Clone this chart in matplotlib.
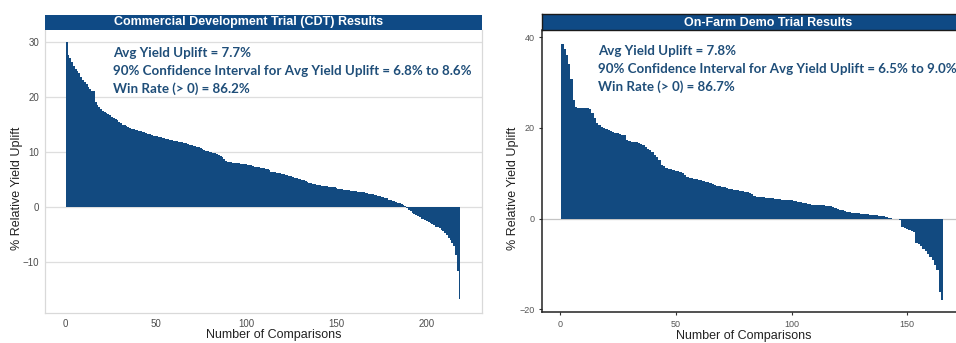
import matplotlib
matplotlib.use("Agg")
import matplotlib.pyplot as plt
import numpy as np

# sorted yield uplift (%) per comparison, CDT trials
cdt_uplift = [
    30.0, 27.6, 27.0, 26.2, 25.5, 25.0, 24.6, 24.3, 23.6, 23.0,
    22.6, 22.3, 21.8, 21.3, 21.1, 21.0, 19.0, 18.4, 18.1, 17.7,
    17.3, 17.2, 17.0, 16.8, 16.6, 16.3, 16.1, 16.0, 15.8, 15.4,
    15.2, 14.9, 14.8, 14.6, 14.4, 14.3, 14.2, 14.1, 14.0, 13.9,
    13.8, 13.7, 13.6, 13.5, 13.4, 13.3, 13.2, 13.0, 12.9, 12.8,
    12.8, 12.7, 12.6, 12.5, 12.4, 12.3, 12.3, 12.2, 12.1, 12.0,
    11.9, 11.9, 11.8, 11.8, 11.7, 11.6, 11.5, 11.4, 11.3, 11.2,
    11.1, 11.0, 10.9, 10.8, 10.6, 10.4, 10.3, 10.2, 10.1, 10.0,
    9.9, 9.8, 9.7, 9.6, 9.4, 9.2, 9.0, 8.7, 8.3, 8.2,
    8.1, 8.1, 8.0, 8.0, 7.9, 7.9, 7.8, 7.8, 7.7, 7.7,
    7.6, 7.6, 7.5, 7.4, 7.3, 7.3, 7.2, 7.1, 7.0, 7.0,
    6.9, 6.8, 6.6, 6.4, 6.3, 6.3, 6.2, 6.2, 6.1, 6.0,
    5.9, 5.8, 5.7, 5.6, 5.5, 5.4, 5.3, 5.2, 5.1, 5.0,
    4.9, 4.8, 4.6, 4.5, 4.4, 4.3, 4.2, 4.1, 4.0, 3.9,
    3.9, 3.8, 3.8, 3.7, 3.7, 3.6, 3.6, 3.5, 3.5, 3.4,
    3.3, 3.3, 3.2, 3.1, 3.1, 3.0, 3.0, 2.9, 2.9, 2.8,
    2.8, 2.7, 2.7, 2.6, 2.6, 2.5, 2.5, 2.4, 2.3, 2.3,
    2.2, 2.1, 2.0, 1.9, 1.8, 1.7, 1.6, 1.5, 1.3, 1.2,
    1.1, 1.0, 0.9, 0.7, 0.6, 0.5, 0.4, 0.2, -0.2, -0.6,
    -0.8, -1.1, -1.3, -1.5, -1.7, -1.9, -2.2, -2.3, -2.4, -2.6,
    -2.8, -3.0, -3.2, -3.4, -3.6, -3.7, -3.9, -4.2, -4.4, -4.8,
    -5.2, -5.6, -6.0, -6.6, -7.2, -8.8, -11.6, -16.8,
]

# sorted yield uplift (%) per comparison, on-farm demos
demo_uplift = [
    38.5, 37.5, 36.0, 34.2, 30.9, 26.1, 24.6, 24.5, 24.5, 24.4,
    24.4, 24.3, 24.1, 23.2, 22.3, 21.0, 20.6, 20.1, 19.9, 19.7,
    19.5, 19.3, 19.1, 18.9, 18.8, 18.7, 18.5, 18.4, 17.3, 17.1,
    17.0, 16.9, 16.8, 16.7, 16.5, 16.2, 15.8, 15.4, 15.1, 14.6,
    14.0, 13.6, 13.0, 11.8, 11.5, 11.2, 11.0, 10.9, 10.8, 10.6,
    10.4, 10.3, 10.0, 9.6, 9.1, 9.0, 8.9, 8.8, 8.7, 8.6,
    8.5, 8.3, 8.1, 8.0, 7.9, 7.7, 7.5, 7.3, 7.2, 7.0,
    6.9, 6.8, 6.6, 6.5, 6.4, 6.3, 6.2, 6.1, 6.0, 5.9,
    5.8, 5.7, 5.5, 5.0, 4.8, 4.8, 4.7, 4.7, 4.6, 4.6,
    4.5, 4.5, 4.4, 4.4, 4.3, 4.2, 4.2, 4.1, 4.0, 4.0,
    3.9, 3.8, 3.7, 3.6, 3.5, 3.4, 3.3, 3.2, 3.1, 3.1,
    3.0, 3.0, 2.9, 2.9, 2.8, 2.8, 2.7, 2.6, 2.4, 2.2,
    2.0, 1.8, 1.6, 1.5, 1.4, 1.3, 1.3, 1.2, 1.2, 1.1,
    1.1, 1.0, 1.0, 0.9, 0.8, 0.8, 0.7, 0.6, 0.5, 0.5,
    0.3, 0.2, 0.1, 0.0, -0.1, -0.1, -0.2, -1.9, -2.1, -2.3,
    -2.5, -2.8, -3.0, -5.3, -5.6, -6.1, -6.6, -7.2, -7.7, -8.5,
    -9.2, -10.2, -11.4, -16.2, -18.0,
]

cdt_title = "Commercial Development Trial (CDT) Results"
demo_title = "On-Farm Demo Trial Results"
cdt_stats = ["Avg Yield Uplift = 7.7%",
             "90% Confidence Interval for Avg Yield Uplift = 6.8% to 8.6%",
             "Win Rate (> 0) = 86.2%"]
demo_stats = ["Avg Yield Uplift = 7.8%",
              "90% Confidence Interval for Avg Yield Uplift = 6.5% to 9.0%",
              "Win Rate (> 0) = 86.7%"]
cdt_yticks = [-10, 0, 10, 20, 30]
demo_yticks = [-20, 0, 20, 40]
cdt_xticks = [0, 50, 100, 150, 200]
demo_xticks = [0, 50, 100, 150]

W, H = 956, 343
BAR = "#124a80"
STRIP = "#0f4a85"
TXT = "#1f4e79"

plt.rcParams["font.family"] = ["Liberation Sans", "DejaVu Sans"]


def box(x0, y0, x1, y1):
    # pixel box (top-left origin) -> figure fraction rect
    return [x0 / W, 1 - y1 / H, (x1 - x0) / W, (y1 - y0) / H]


def fx(x):
    return x / W


def fy(y):
    return 1 - y / H


fig = plt.figure(figsize=(W / 100, H / 100), dpi=100)

# ---- left panel: CDT ----
ax1 = fig.add_axes(box(45, 30, 482, 313))
x1 = np.arange(1, len(cdt_uplift) + 1)
ax1.bar(x1, cdt_uplift, width=1.0, color=BAR, linewidth=0, zorder=2)
ax1.set_xlim(-11.0, 230.4)
ax1.set_ylim(-19.3, 32.1)
ax1.set_yticks(cdt_yticks)
ax1.set_xticks(cdt_xticks)
ax1.grid(axis="y", color="#dedede", linewidth=0.9, zorder=0)
ax1.tick_params(length=0, labelsize=7, labelcolor="#4d4d4d", pad=4)
for s in ["left", "right", "bottom"]:
    ax1.spines[s].set_color("#d9d9d9")
    ax1.spines[s].set_linewidth(0.9)
ax1.spines["top"].set_visible(False)

st1 = fig.add_axes(box(45, 15, 482, 30))
st1.set_facecolor(STRIP)
st1.set_xticks([])
st1.set_yticks([])
for s in st1.spines.values():
    s.set_visible(False)
fig.text(fx(249), fy(22.5), cdt_title, color="white", fontsize=9,
         fontweight="bold", ha="center", va="center")

for i, line in enumerate(cdt_stats):
    fig.text(fx(113), fy(53 + 18 * i), line, family="Lato", fontweight="bold",
             fontsize=9.6, color=TXT, ha="left", va="center")

fig.text(fx(17), fy(188), "% Relative Yield Uplift", rotation=90,
         fontsize=9, color="#222222", ha="center", va="center")
fig.text(fx(273.5), fy(335), "Number of Comparisons",
         fontsize=9, color="#222222", ha="center", va="center")

# ---- right panel: on-farm demos ----
ax2 = fig.add_axes(box(542, 30, 995, 312))
x2 = np.arange(1, len(demo_uplift) + 1)
ax2.bar(x2, demo_uplift, width=1.0, color=BAR, linewidth=0, zorder=2)
ax2.axhline(0, color="#c4c4c4", linewidth=0.9, zorder=1)
ax2.set_xlim(-7.8, 187.9)
ax2.set_ylim(-20.6, 41.6)
ax2.set_yticks(demo_yticks)
ax2.set_xticks(demo_xticks)
ax2.tick_params(length=2.5, width=0.8, color="#333333", labelsize=6.5,
                labelcolor="#555555", pad=3)
for s in ["left", "bottom"]:
    ax2.spines[s].set_color("#222222")
    ax2.spines[s].set_linewidth(1.1)
ax2.spines["top"].set_visible(False)
ax2.spines["right"].set_visible(False)

st2 = fig.add_axes(box(542, 14, 995, 30))
st2.set_facecolor(STRIP)
st2.set_xticks([])
st2.set_yticks([])
for s in st2.spines.values():
    s.set_color("#1a1a1a")
    s.set_linewidth(1.0)
fig.text(fx(768.5), fy(22.5), demo_title, color="white", fontsize=9,
         fontweight="bold", ha="center", va="center")

for i, line in enumerate(demo_stats):
    fig.text(fx(598), fy(51 + 18 * i), line, family="Lato", fontweight="bold",
             fontsize=9.6, color=TXT, ha="left", va="center")

fig.text(fx(513), fy(188), "% Relative Yield Uplift", rotation=90,
         fontsize=9, color="#222222", ha="center", va="center")
fig.text(fx(744), fy(336), "Number of Comparisons",
         fontsize=9, color="#222222", ha="center", va="center")

fig.savefig("out.png", dpi=100)
